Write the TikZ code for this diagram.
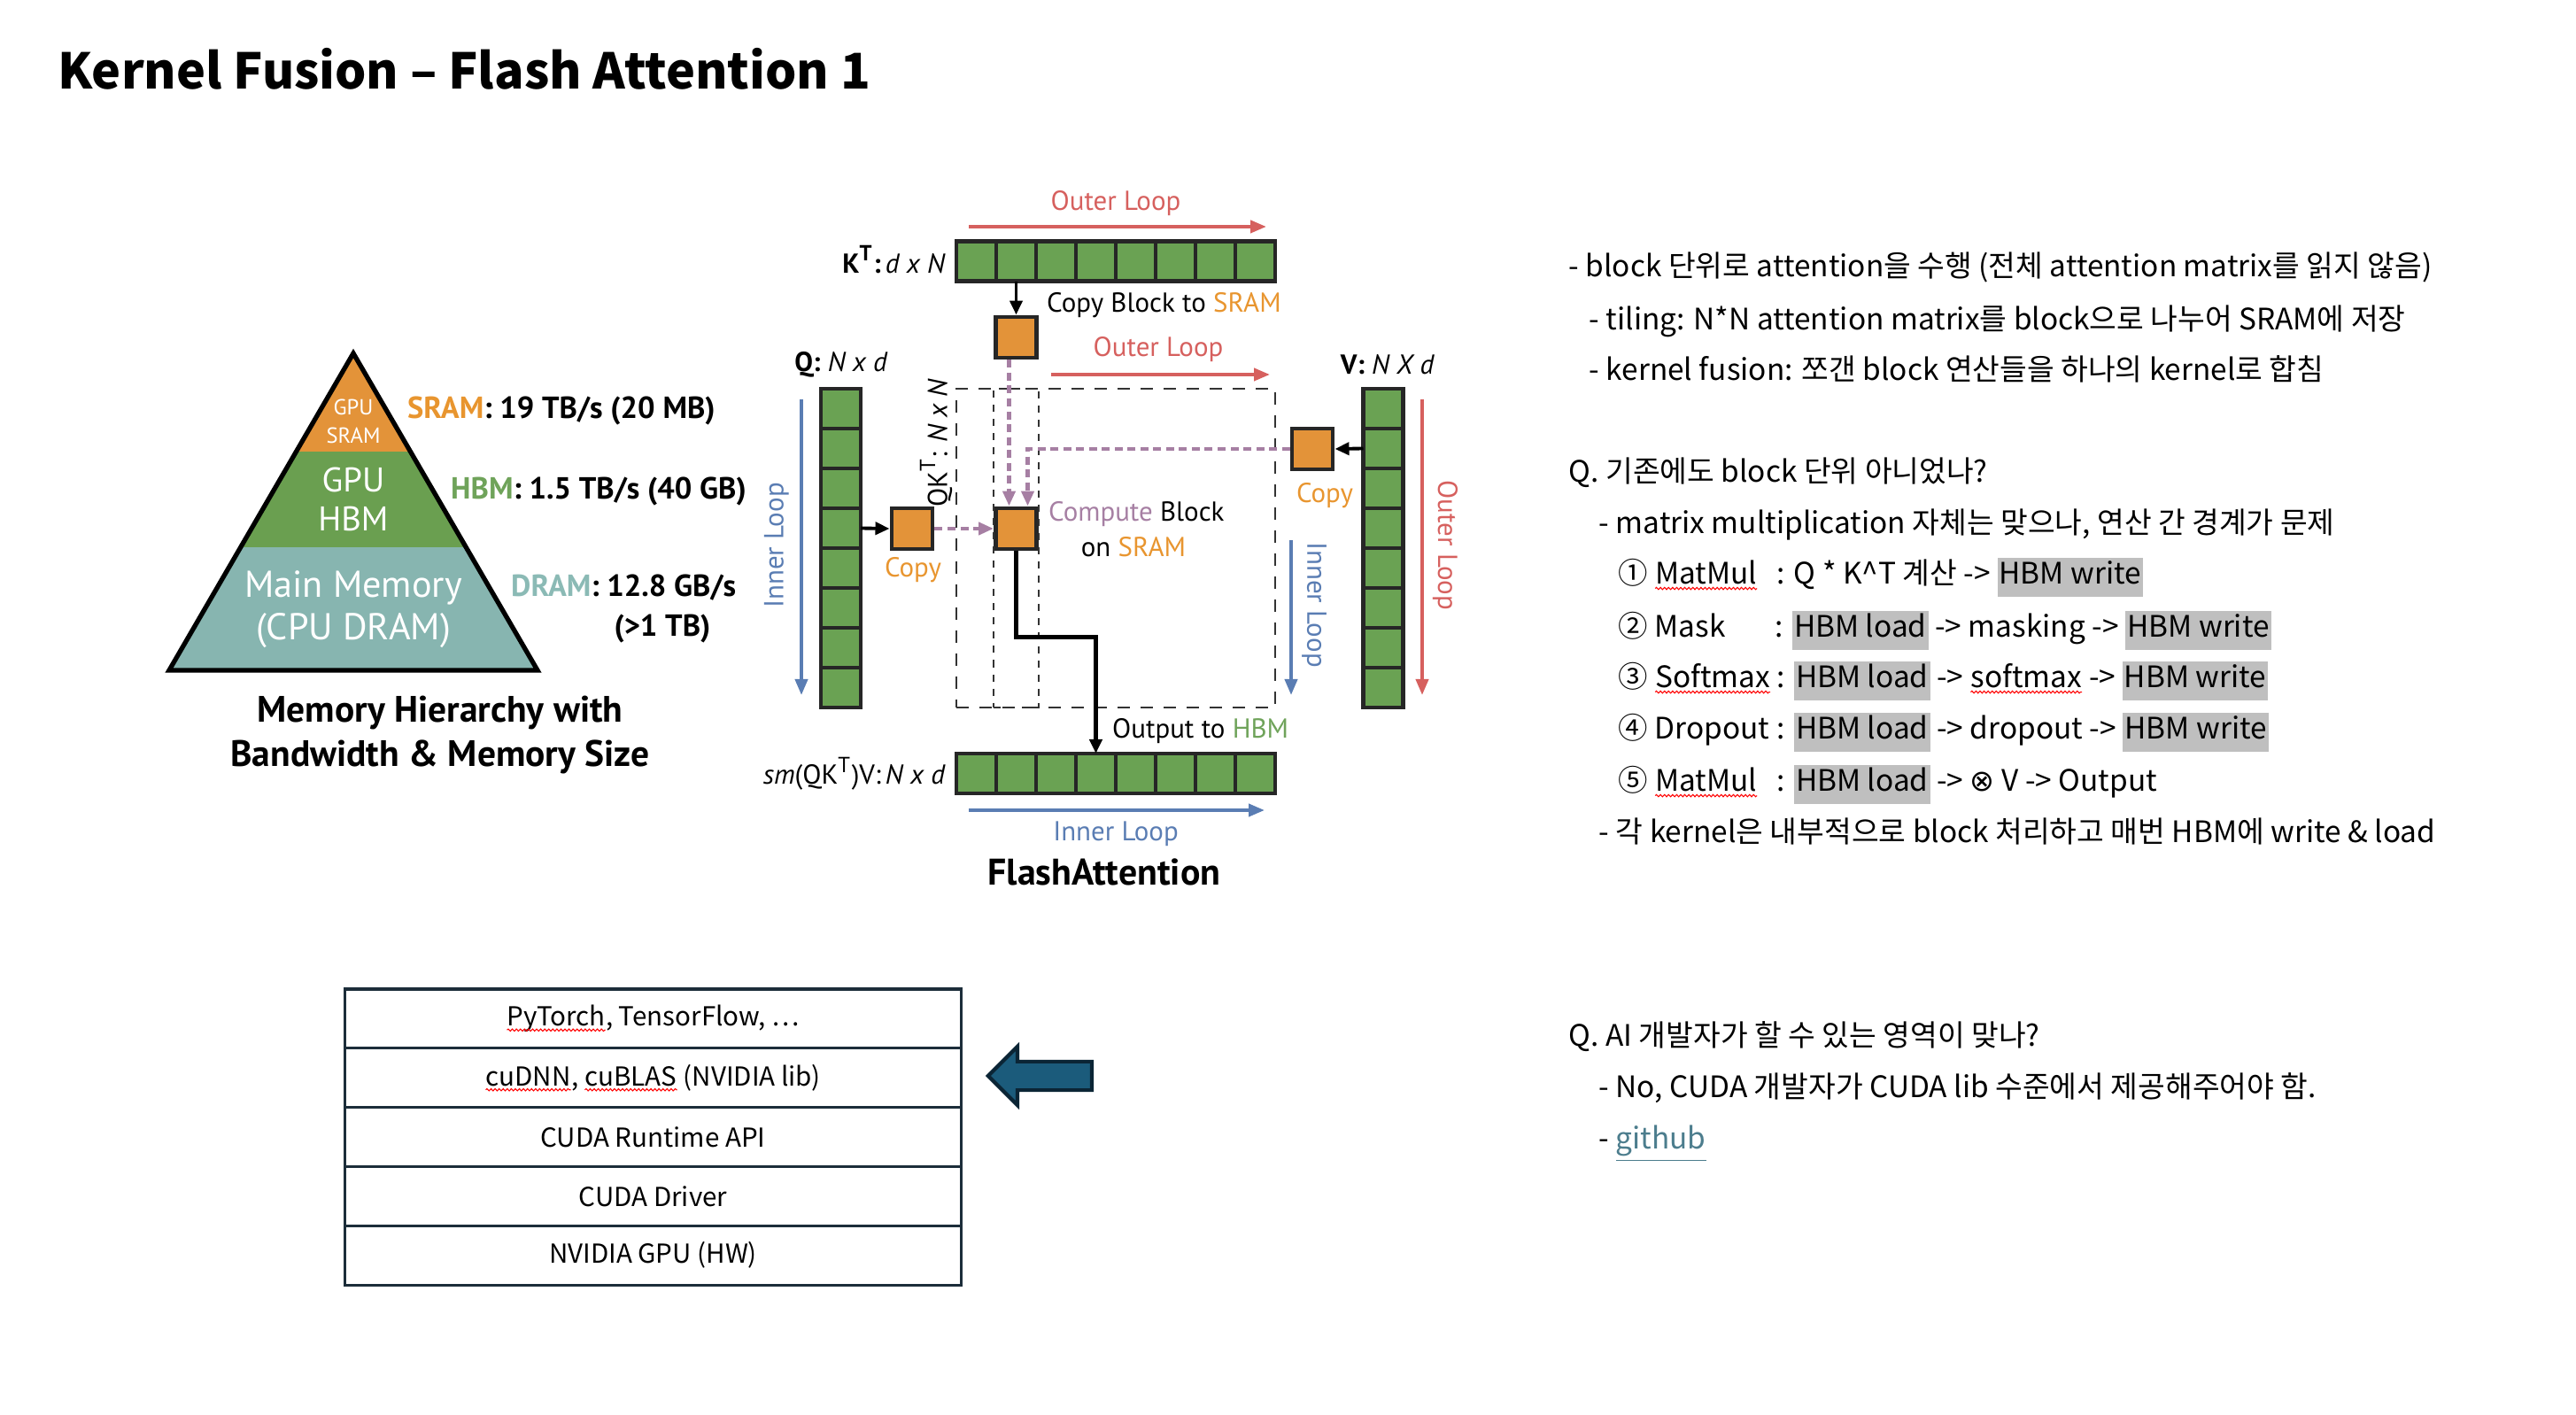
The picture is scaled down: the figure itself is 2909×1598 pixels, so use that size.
\documentclass[tikz,border=0pt]{standalone}
\usepackage{fontspec}
\setmainfont{Noto Sans CJK KR}
\newfontfamily\fafont{PT Sans}
\newfontfamily\dvfont{DejaVu Sans}
\usepackage{xcolor}
\definecolor{faorange}{HTML}{E39339}
\definecolor{faorangetxt}{HTML}{E8952F}
\definecolor{fagreen}{HTML}{6AA253}
\definecolor{fagreentxt}{HTML}{6FA35A}
\definecolor{pygreen}{HTML}{6A9F50}
\definecolor{fateal}{HTML}{87B5B0}
\definecolor{fatealtxt}{HTML}{8BBAB5}
\definecolor{fared}{HTML}{D6605E}
\definecolor{fablue}{HTML}{5A7DB3}
\definecolor{fapurple}{HTML}{A67FA3}
\definecolor{hlgray}{HTML}{BFBFBF}
\definecolor{stackline}{HTML}{1C2D3A}
\definecolor{devfill}{HTML}{1B5B7B}
\definecolor{devline}{HTML}{0B2535}
\definecolor{linkteal}{HTML}{4C7D8D}
\usetikzlibrary{arrows.meta,positioning,shapes.arrows,fit,calc,decorations.pathmorphing}
\newcommand\hbm[1]{{\setlength{\fboxsep}{0.6pt}\colorbox{hlgray}{\strut#1}}}
\newcommand\spell[1]{\tikz[baseline=(sw.base),x=1cm,y=1cm]{\node[draw=none,fill=none,inner sep=0pt,outer sep=0pt,minimum size=0pt,anchor=base] (sw) {#1};
  \draw[red,line width=0.3pt,decorate,decoration={snake,amplitude=0.35pt,segment length=1.3pt}] ([yshift=-1.3pt]sw.base west) -- ([yshift=-1.3pt]sw.base east);}}
\tikzset{
  facell/.style={draw=black!85,line width=1.4pt,fill=fagreen,minimum size=0.45cm,inner sep=0pt,outer sep=0pt},
  fablock/.style={draw=black!85,line width=1.4pt,fill=faorange,minimum size=0.46cm,inner sep=0pt},
  faflow/.style={-{Triangle[length=1.6mm,width=1.4mm]},line width=1.1pt},
  fadash/.style={-{Triangle[length=1.7mm,width=1.4mm]},fapurple,line width=1.2pt,dash pattern=on 0.9mm off 0.55mm},
  fadashbox/.style={draw=black!80,line width=0.8pt,inner sep=0pt},
  faloop/.style={-{Triangle[length=1.8mm,width=1.4mm]},line width=1.1pt},
  falabel/.style={font=\fafont\fontsize{8.8}{10}\selectfont,inner sep=1pt},
  pylabel/.style={font=\fafont\bfseries\fontsize{9.8}{11}\selectfont,inner sep=1pt},
  pyinner/.style={font=\fafont\fontsize{12}{13.7}\selectfont,text=white,align=center,inner sep=0pt},
  stackrow/.style={draw=stackline,line width=0.9pt,minimum width=6.95cm,minimum height=0.668cm,outer sep=0pt,font=\fontsize{8.4}{10}\selectfont},
  devarrow/.style={single arrow,shape border rotate=180,draw=devline,fill=devfill,line width=1.2pt,minimum height=1.17cm,inner xsep=0pt,inner ysep=0.14cm,single arrow head extend=0.17cm,single arrow head indent=0pt},
  notetext/.style={anchor=base west,inner sep=0pt,font=\fontsize{9.5}{11.4}\selectfont},
}
\begin{document}
\begin{tikzpicture}[x=0.01cm,y=-0.01cm]
\useasboundingbox (0,0) rectangle (2909,1598);
\node[anchor=west,inner sep=0pt,font=\bfseries\fontsize{15.8}{19}\selectfont] (title) at (65,78) {Kernel Fusion – Flash Attention 1};
% memory hierarchy pyramid
\coordinate (pA) at (399,399);
\coordinate (pL) at (191,757);
\coordinate (pR) at (607,757);
\begin{scope}
\clip (pA) -- (pL) -- (pR) -- cycle;
\fill[faorange] (180,390) rectangle (620,510);
\fill[pygreen] (180,510) rectangle (620,618);
\fill[fateal] (180,618) rectangle (620,770);
\end{scope}
\draw[line width=1.5pt,line join=miter] (pA) -- (pL) -- (pR) -- cycle;
\node[pyinner,font=\fafont\fontsize{7}{9.1}\selectfont] (psram) at (399,476) {GPU\\SRAM};
\node[pyinner,font=\fafont\fontsize{11}{12.5}\selectfont] (phbm) at (399,564) {GPU\\HBM};
\node[pyinner] (pdram) at (399,688) {Main Memory\\(CPU DRAM)};
\node[pylabel,anchor=west] (lsram) at (456,464) {\textcolor{faorangetxt}{SRAM}: 19 TB/s (20 MB)};
\node[pylabel,anchor=west] (lhbm) at (505,555) {\textcolor{fagreentxt}{HBM}: 1.5 TB/s (40 GB)};
\node[pylabel,anchor=west] (ldram) at (573,664) {\textcolor{fatealtxt}{DRAM}: 12.8 GB/s};
\node[pylabel] (ldram2) at (748,710) {(>1 TB)};
\node[font=\fafont\bfseries\fontsize{11.8}{14.2}\selectfont,align=center] (pcap) at (497,830) {Memory Hierarchy with\\Bandwidth \& Memory Size};
% tiles of K^T, Q, V and the output
\foreach \i in {1,...,8}{
  \node[facell] (k\i) at ({1057.5+45*\i},295) {};
  \node[facell] (q\i) at (949.5,{416.5+45*\i}) {};
  \node[facell] (v\i) at (1562,{416.5+45*\i}) {};
  \node[facell] (o\i) at ({1057.5+45*\i},873.5) {};
}
\node[fablock] (kb) at (1147.5,381) {};
\node[fablock] (qb) at (1030,597) {};
\node[fablock] (cb) at (1147.5,597) {};
\node[fablock] (vb) at (1482,507) {};
\node[fadashbox,dash pattern=on 1.4mm off 1.2mm,fit=(k1.west |- q1.north)(k8.east |- q8.south)] (qkt) {};
\node[fadashbox,dash pattern=on 0.8mm off 0.8mm,fit=(cb.west |- q1.north)(cb.east |- q8.south)] (qcol) {};
\draw[faflow] (k2.south) -- (kb.north);
\draw[faflow] (q4.east) -- (qb.west);
\draw[faflow] (v2.west) -- (vb.east);
\draw[faflow,line width=1.3pt] (cb.south) -- ++(0,97) -| (o4.north);
\draw[fadash] (qb.east) -- (cb.west);
\draw[fadash] ([xshift=-0.08cm]kb.south) -- ([xshift=-0.08cm]cb.north);
\draw[fadash] (vb.west) -| ([xshift=0.13cm]cb.north);
% loop directions
\coordinate (olaS) at (1094,256); \coordinate (olaE) at (1430,256);
\coordinate (olbS) at (1187,423); \coordinate (olbE) at (1434,423);
\coordinate (ilaS) at (905,451); \coordinate (ilaE) at (905,785);
\coordinate (ilbS) at (1458,610); \coordinate (ilbE) at (1458,785);
\coordinate (olcS) at (1606,451); \coordinate (olcE) at (1606,785);
\coordinate (ildS) at (1094,915); \coordinate (ildE) at (1428,915);
\draw[faloop,fared] (olaS) -- (olaE);
\draw[faloop,fared] (olbS) -- (olbE);
\draw[faloop,fablue] (ilaS) -- (ilaE);
\draw[faloop,fablue] (ilbS) -- (ilbE);
\draw[faloop,fared] (olcS) -- (olcE);
\draw[faloop,fablue] (ildS) -- (ildE);
\node[falabel,text=fared] (olal) at (1260,230) {Outer Loop};
\node[falabel,text=fared] (olbl) at (1308,395) {Outer Loop};
\node[falabel,text=fablue,rotate=90] (ilal) at (877,616) {Inner Loop};
\node[falabel,text=fablue,rotate=-90] (ilbl) at (1484,683) {Inner Loop};
\node[falabel,text=fared,rotate=-90] (olcl) at (1632,616) {Outer Loop};
\node[falabel,text=fablue] (ildl) at (1260,942) {Inner Loop};
% figure labels
\node[falabel,anchor=east] (ktl) at (1072,293) {\textbf{K\textsuperscript{\scriptsize T}:}\,\textit{d x N}};
\node[falabel,anchor=west] (kbl) at (1178,345) {Copy Block to \textcolor{faorangetxt}{SRAM}};
\node[falabel] (ql) at (950,412) {\textbf{Q:} \textit{N x d}};
\node[falabel] (vl) at (1567,412) {\textbf{V:} \textit{N X d}};
\node[falabel,text=faorangetxt] (qbl) at (1031,644) {Copy};
\node[falabel,text=faorangetxt] (vbl) at (1496,560) {Copy};
\node[falabel,rotate=90] (qktl) at (1057,500) {QK\textsuperscript{\scriptsize T}: \textit{N x N}};
\node[falabel,anchor=west] (cbl) at (1180,581) {\textcolor{fapurple}{Compute} Block};
\node[falabel] (cbl2) at (1280,618) {on \textcolor{faorangetxt}{SRAM}};
\node[falabel,anchor=west] (outl) at (1252,826) {Output to \textcolor{fagreentxt}{HBM}};
\node[falabel,anchor=east] (otl) at (1072,874) {\textit{sm}(QK\textsuperscript{\scriptsize T})V:\,\textit{N x d}};
\node[font=\fafont\bfseries\fontsize{11.9}{13}\selectfont] (fal) at (1247,985) {FlashAttention};
% software stack
\node[stackrow] (s1) at (737.5,1150.4) {\spell{PyTorch}, TensorFlow, …};
\node[stackrow,below=0pt of s1] (s2) {\spell{cuDNN}, \spell{cuBLAS} (NVIDIA lib)};
\node[stackrow,below=0pt of s2] (s3) {CUDA Runtime API};
\node[stackrow,below=0pt of s3] (s4) {CUDA Driver};
\node[stackrow,below=0pt of s4] (s5) {NVIDIA GPU (HW)};
\node[devarrow] (dev) at (1182.5,1215) {};
% notes
\node[notetext] (n1) at (1771,313) {- block 단위로 attention을 수행 (전체 attention matrix를 읽지 않음)};
\node[notetext] (n2) at (1794,373) {- tiling: N*N attention matrix를 block으로 나누어 SRAM에 저장};
\node[notetext] (n3) at (1794,430) {- kernel fusion: 쪼갠 block 연산들을 하나의 kernel로 합침};
\node[notetext] (n4) at (1771,545) {Q. 기존에도 block 단위 아니었나?};
\node[notetext] (n5) at (1805,603) {- matrix multiplication 자체는 맞으나, 연산 간 경계가 문제};
\node[notetext] (m1) at (1827,660) {① \spell{MatMul}};
\node[notetext] (m1r) at (2006,660) {: Q * K\textasciicircum T 계산 -> \hbm{HBM write}};
\node[notetext] (m2) at (1827,720) {② Mask};
\node[notetext] (m2r) at (2004,720) {: \hbm{HBM load} -> masking -> \hbm{HBM write}};
\node[notetext] (m3) at (1827,777) {③ \spell{Softmax}};
\node[notetext] (m3r) at (2006,777) {: \hbm{HBM load} -> \spell{softmax} -> \hbm{HBM write}};
\node[notetext] (m4) at (1827,835) {④ Dropout};
\node[notetext] (m4r) at (2006,835) {: \hbm{HBM load} -> dropout -> \hbm{HBM write}};
\node[notetext] (m5) at (1827,894) {⑤ \spell{MatMul}};
\node[notetext] (m5r) at (2006,894) {: \hbm{HBM load} -> {\dvfont ⊗} V -> Output};
\node[notetext] (n6) at (1805,952) {- 각 kernel은 내부적으로 block 처리하고 매번 HBM에 write \& load};
\node[notetext] (n7) at (1771,1181) {Q. AI 개발자가 할 수 있는 영역이 맞나?};
\node[notetext] (n8) at (1805,1239) {- No, CUDA 개발자가 CUDA lib 수준에서 제공해주어야 함.};
\node[notetext] (n9) at (1805,1297) {- \textcolor{linkteal}{\underline{github}}};
\end{tikzpicture}
\end{document}
